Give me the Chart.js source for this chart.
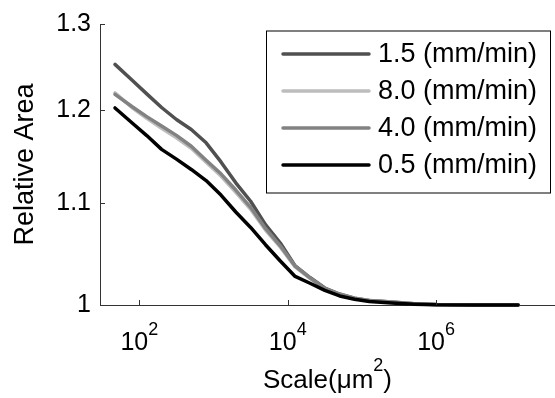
<!DOCTYPE html>
<html>
<head>
<meta charset="utf-8">
<script src="https://cdn.jsdelivr.net/npm/chart.js@4"></script>
<style>
html,body{margin:0;padding:0;background:#fff;}
canvas{display:block;}
</style>
</head>
<body>
<canvas id="c" width="555" height="398"></canvas>
<script>
// ---- data ----
const scales = [47, 79.4, 125.9, 199.5, 316.2, 501.2, 794.3, 1259, 1995, 3162, 5012, 7943, 12589, 19953, 31623, 50119, 79433, 125893, 251189, 501187, 1000000, 3162278, 12735000];
const rate15 = [1.2519,1.2337,1.2179,1.2025,1.1891,1.1781,1.1635,1.1429,1.1208,1.1017,1.0779,1.0596,1.0371,1.0260,1.0160,1.0103,1.0063,1.0043,1.0027,1.0012,1.0004,1.0,1.0];
const rate80 = [1.2190,1.2025,1.1905,1.1795,1.1690,1.1575,1.1425,1.1280,1.1110,1.0935,1.0725,1.0555,1.0362,1.0252,1.0152,1.0098,1.0061,1.0040,1.0026,1.0011,1.0003,1.0,1.0];
const rate40 = [1.2173,1.2036,1.1923,1.1818,1.1716,1.1598,1.1448,1.1303,1.1133,1.0955,1.0741,1.0568,1.0369,1.0257,1.0155,1.0100,1.0063,1.0041,1.0027,1.0012,1.0004,1.0,1.0];
const rate05 = [1.2020,1.1855,1.1714,1.1564,1.1459,1.1349,1.1232,1.1081,1.0907,1.0751,1.0579,1.0419,1.0270,1.0205,1.0137,1.0085,1.0054,1.0032,1.0018,1.0008,1.0002,1.0,1.0];
const seriesNames = ['1.5 (mm/min)', '8.0 (mm/min)', '4.0 (mm/min)', '0.5 (mm/min)'];
const xTickValues = [100, 10000, 1000000];
const xTickBase = ['10', '10', '10'];
const xTickExp = ['2', '4', '6'];
const yTickValues = [1, 1.1, 1.2, 1.3];
const yTickLabels = ['1', '1.1', '1.2', '1.3'];
const xTitle = ['Scale(μm', '2', ')'];
const yTitle = 'Relative Area';

const FONT = "'Liberation Sans', Arial, Helvetica, sans-serif";
const colors = ['#505050', '#bdbdbd', '#828282', '#000000'];
const seriesData = [rate15, rate80, rate40, rate05];
const orders = [3, 2, 1, 0];

const datasets = seriesData.map((arr, i) => ({
  label: seriesNames[i],
  data: arr.map((v, j) => ({x: scales[j], y: v})),
  borderColor: colors[i],
  backgroundColor: colors[i],
  borderWidth: 3.5,
  pointRadius: 0,
  tension: 0,
  fill: false,
  clip: false,
  order: orders[i],
  borderCapStyle: 'round',
  borderJoinStyle: 'round'
}));

const decor = {
  id: 'decor',
  afterDraw(chart) {
    const ctx = chart.ctx;
    const xs = chart.scales.x, ys = chart.scales.y;
    const ca = chart.chartArea;
    ctx.save();
    // inward tick marks
    ctx.strokeStyle = '#333';
    ctx.lineWidth = 1;
    ctx.beginPath();
    yTickValues.forEach(v => {
      const y = Math.round(ys.getPixelForValue(v)) + 0.5;
      ctx.moveTo(ca.left, y); ctx.lineTo(ca.left + 5, y);
    });
    xTickValues.forEach(v => {
      const x = Math.round(xs.getPixelForValue(v)) + 0.5;
      ctx.moveTo(x, ca.bottom); ctx.lineTo(x, ca.bottom - 5);
    });
    ctx.stroke();

    // x tick labels with superscripts
    ctx.fillStyle = '#000';
    ctx.textBaseline = 'alphabetic';
    ctx.textAlign = 'left';
    xTickValues.forEach((v, i) => {
      const x = xs.getPixelForValue(v);
      ctx.font = '25px ' + FONT;
      const wb = ctx.measureText(xTickBase[i]).width;
      ctx.font = '18px ' + FONT;
      const we = ctx.measureText(xTickExp[i]).width;
      const start = x - (wb + we) / 2;
      ctx.font = '25px ' + FONT;
      ctx.fillText(xTickBase[i], start, ca.bottom + 45);
      ctx.font = '18px ' + FONT;
      ctx.fillText(xTickExp[i], start + wb, ca.bottom + 30);
    });

    // x title
    ctx.font = '26px ' + FONT;
    const w0 = ctx.measureText(xTitle[0]).width;
    const w2 = ctx.measureText(xTitle[2]).width;
    ctx.font = '18px ' + FONT;
    const w1 = ctx.measureText(xTitle[1]).width;
    const cx = (ca.left + ca.right) / 2;
    let sx = cx - (w0 + w1 + w2) / 2;
    const by = ca.bottom + 83;
    ctx.font = '26px ' + FONT;
    ctx.fillText(xTitle[0], sx, by);
    ctx.font = '18px ' + FONT;
    ctx.fillText(xTitle[1], sx + w0, by - 17);
    ctx.font = '26px ' + FONT;
    ctx.fillText(xTitle[2], sx + w0 + w1, by);

    // legend box
    const lx = 266, ly = 30.5, lw = 284, lh = 162;
    ctx.fillStyle = '#fff';
    ctx.fillRect(lx, ly, lw, lh);
    ctx.strokeStyle = '#000';
    ctx.lineWidth = 1;
    ctx.strokeRect(lx + 0.5, ly + 0.5, lw, lh);
    const rows = [54, 91, 128, 165];
    seriesNames.forEach((name, i) => {
      ctx.strokeStyle = colors[i];
      ctx.lineWidth = 3.5;
      ctx.lineCap = 'round';
      ctx.beginPath();
      ctx.moveTo(283, rows[i]); ctx.lineTo(369, rows[i]);
      ctx.stroke();
      ctx.fillStyle = '#000';
      ctx.font = '27px ' + FONT;
      ctx.textBaseline = 'middle';
      ctx.fillText(name, 378, rows[i] + 1);
    });
    ctx.restore();
  }
};

new Chart(document.getElementById('c'), {
  type: 'line',
  data: { datasets },
  options: {
    responsive: false,
    devicePixelRatio: 1,
    animation: false,
    events: [],
    layout: { padding: { top: 15, left: 0, right: 0, bottom: 0 } },
    plugins: { legend: { display: false }, tooltip: { enabled: false } },
    scales: {
      x: {
        type: 'logarithmic',
        min: 29.5,
        max: 4.0e7,
        grid: { display: false, drawTicks: false },
        border: { display: true, color: '#333', width: 1 },
        ticks: { display: false },
        afterBuildTicks: s => { s.ticks = xTickValues.map(v => ({value: v})); },
        afterFit: s => { s.height = 93; }
      },
      y: {
        type: 'logarithmic',
        min: 1,
        max: 1.3,
        grid: { display: false, drawTicks: false },
        border: { display: true, color: '#333', width: 1 },
        afterBuildTicks: s => { s.ticks = yTickValues.map(v => ({value: v})); },
        ticks: {
          color: '#000',
          font: { family: FONT, size: 25 },
          padding: 9,
          callback: (v) => { const k = yTickValues.indexOf(v); return k >= 0 ? yTickLabels[k] : ''; }
        },
        title: {
          display: true,
          text: yTitle,
          color: '#000',
          font: { family: FONT, size: 27 },
          padding: { top: 9, bottom: 0 }
        },
        afterFit: s => { s.width = 100; }
      }
    }
  },
  plugins: [decor]
});
</script>
</body>
</html>
